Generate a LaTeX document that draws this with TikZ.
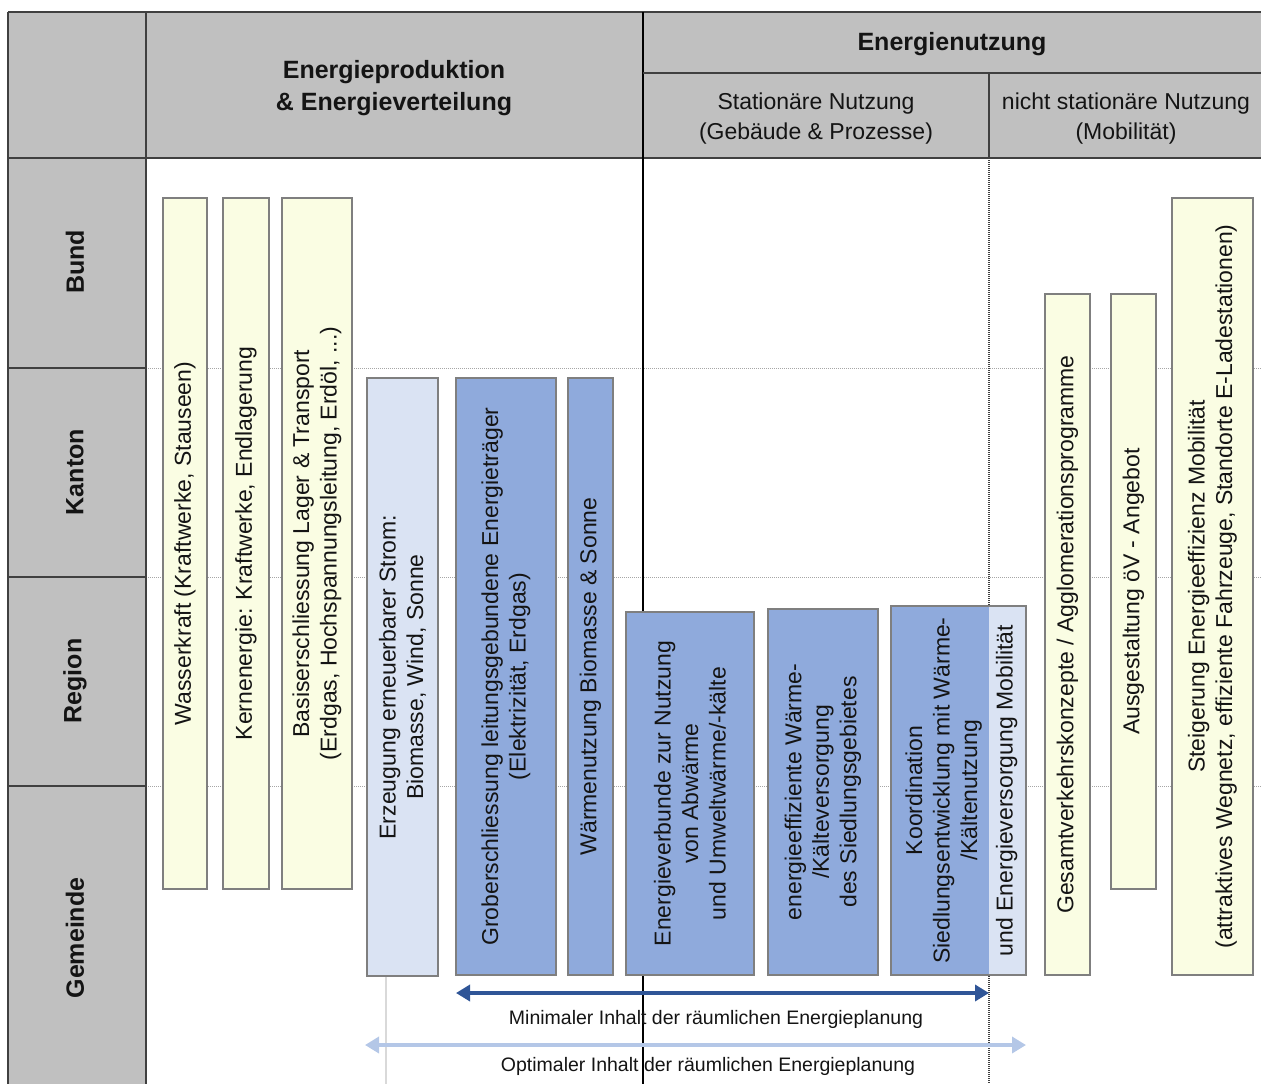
\documentclass[tikz,border=0pt]{standalone}
\usepackage{fontspec}
\setmainfont{Liberation Sans}
\usetikzlibrary{arrows.meta}

\definecolor{headgray}{HTML}{C0C0C0}
\definecolor{frameline}{HTML}{404040}
\definecolor{boxline}{HTML}{7F7F7F}
\definecolor{paleyellow}{HTML}{FAFDE3}
\definecolor{paleblue}{HTML}{DAE3F3}
\definecolor{midblue}{HTML}{8FAADC}
\definecolor{darkarrow}{HTML}{2F5597}
\definecolor{lightarrow}{HTML}{B4C7E7}
\definecolor{txt}{HTML}{141414}

\begin{document}
\begin{tikzpicture}[x=1pt,y=-1pt,
  frame/.style={draw=frameline, line width=1.2},
  rowsep/.style={draw=gray!70, line width=0.8, dash pattern=on 1pt off 1pt},
  colsep/.style={draw=frameline, line width=1.1, dash pattern=on 1pt off 1pt},
  headbold/.style={font=\fontsize{25}{32}\selectfont\bfseries, text=txt, align=center},
  headsub/.style={font=\fontsize{23}{30}\selectfont, text=txt, align=center},
  level/.style={font=\fontsize{25}{30}\selectfont\bfseries, text=txt, rotate=90},
  box/.style={draw=boxline, line width=1.1, rotate=90, inner sep=0pt, align=center,
              font=\fontsize{23}{27.5}\selectfont, text=txt},
  ybox/.style={box, fill=paleyellow},
  lbox/.style={box, fill=paleblue},
  bbox/.style={box, fill=midblue},
  span/.style={line width=3.6, {Triangle[length=14pt,width=16pt]}-{Triangle[length=14pt,width=16pt]}},
  spanlabel/.style={font=\fontsize{19.5}{23}\selectfont, text=txt}
]
\useasboundingbox (0,0) rectangle (1261,1084);

% grey header row and level column
\fill[headgray] (8,12) rectangle (146,1084);
\fill[headgray] (146,12) rectangle (1261,158);

% dotted level separators across the body
\foreach \yy in {368,577,786} {
  \draw[rowsep] (146,\yy) -- (1261,\yy);
  \draw[frame] (8,\yy) -- (146,\yy);
}

% table frame
\draw[frame] (8,12) -- (1261,12);
\draw[frame] (8,12) -- (8,1084);
\draw[frame] (146,12) -- (146,1084);
\draw[frame] (8,158) -- (1261,158);
\draw[draw=black, line width=1.1] (643,12) -- (643,1084);
\draw[frame] (643,73) -- (1261,73);
\draw[frame] (989,73) -- (989,158);
\draw[colsep] (989,158) -- (989,1084);
\draw[draw=gray!30, line width=1.2] (386,976) -- (386,1084);

% header texts
\node[headbold] (hprod) at (394,88) {Energieproduktion\\\& Energieverteilung};
\node[headbold] (hnutz) at (952,44) {Energienutzung};
\node[headsub] (hstat) at (816,119) {Stationäre Nutzung\\(Gebäude \& Prozesse)};
\node[headsub] (hmob) at (1126,119) {nicht stationäre Nutzung\\(Mobilität)};

% planning levels
\node[level] (bund) at (75,262) {Bund};
\node[level] (kanton) at (75,472) {Kanton};
\node[level] (region) at (75,681) {Region};
\node[level] (gemeinde) at (75,938) {Gemeinde};

% production and distribution
\node[ybox, minimum width=691, minimum height=44] (wasser) at (185,543.5)
  {Wasserkraft (Kraftwerke, Stauseen)};
\node[ybox, minimum width=691, minimum height=46] (kern) at (246,543.5)
  {Kernenergie: Kraftwerke, Endlagerung};
\node[ybox, minimum width=691, minimum height=70] (basis) at (317,543.5)
  {Basiserschliessung Lager \& Transport\\(Erdgas, Hochspannungsleitung, Erdöl, ...)};
\node[lbox, minimum width=598, minimum height=71] (erzeug) at (402.5,677)
  {Erzeugung erneuerbarer Strom:\\Biomasse, Wind, Sonne};
\node[bbox, minimum width=597, minimum height=100] (grob) at (506,676.5)
  {Groberschliessung leitungsgebundene Energieträger\\(Elektrizität, Erdgas)};
\node[bbox, minimum width=597, minimum height=45] (waerme) at (590.5,676.5)
  {Wärmenutzung Biomasse \& Sonne};

% stationary use
\node[bbox, minimum width=363, minimum height=128] (verbund) at (690,793.5)
  {Energieverbunde zur Nutzung\\von Abwärme\\und Umweltwärme/-kälte};
\node[bbox, minimum width=366, minimum height=110] (effizient) at (823,792)
  {energieeffiziente Wärme-\\/Kälteversorgung\\des Siedlungsgebietes};
\node[bbox, minimum width=369, minimum height=135] (koord) at (958.5,790.5) {};
\fill[paleblue] (989,606.6) rectangle (1025.4,974.4);
\draw[draw=boxline, line width=1.1] (koord.south west) rectangle (koord.north east);
\node[rotate=90, align=center, inner sep=0pt, font=\fontsize{23}{27.5}\selectfont, text=txt]
  (koordtext) at (961.5,790.5)
  {Koordination\\Siedlungsentwicklung mit Wärme-\\/Kältenutzung\\[8pt]und Energieversorgung Mobilität};

% mobility
\node[ybox, minimum width=681, minimum height=45] (gesamt) at (1067.5,634.5)
  {Gesamtverkehrskonzepte / Agglomerationsprogramme};
\node[ybox, minimum width=595, minimum height=45] (oev) at (1133.5,591.5)
  {Ausgestaltung öV - Angebot};
\node[ybox, minimum width=777, minimum height=81] (steig) at (1212.5,586.5)
  {Steigerung Energieeffizienz Mobilität\\(attraktives Wegnetz, effiziente Fahrzeuge, Standorte E-Ladestationen)};

% scope of the spatial energy plan
\coordinate (minL) at (456,993);
\coordinate (minR) at (989,993);
\coordinate (optL) at (365,1045);
\coordinate (optR) at (1026,1045);
\draw[span, darkarrow] (minL) -- (minR);
\draw[span, lightarrow] (optL) -- (optR);
\node[spanlabel] (minlab) at (716,1019) {Minimaler Inhalt der räumlichen Energieplanung};
\node[spanlabel] (optlab) at (708,1066) {Optimaler Inhalt der räumlichen Energieplanung};
\end{tikzpicture}
\end{document}
